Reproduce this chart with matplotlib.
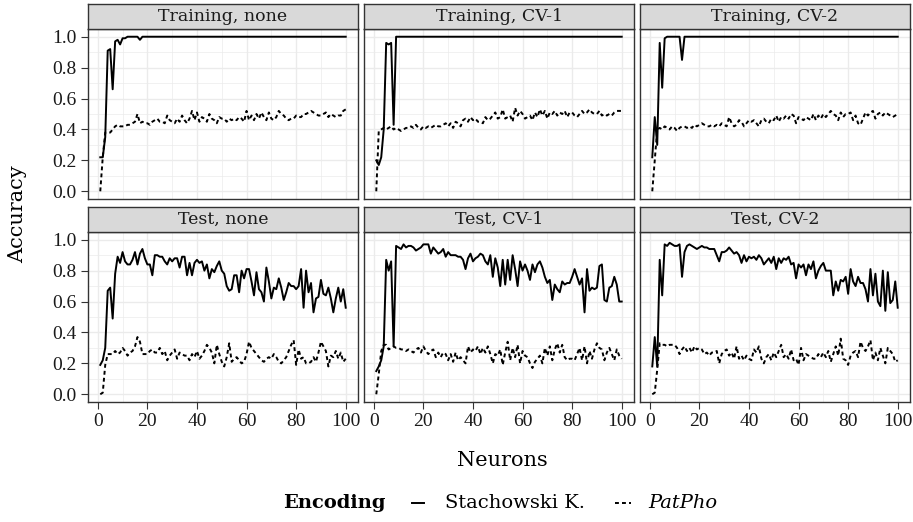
import matplotlib.pyplot as plt
from matplotlib.lines import Line2D
from matplotlib.ticker import MultipleLocator, FormatStrFormatter

plt.rcParams['font.family'] = ['DejaVu Serif']

neurons = list(range(1, 101))

train_none_stach = [0.22, 0.22, 0.35, 0.91, 0.92, 0.66, 0.97, 0.98, 0.95, 0.99,
                    0.99, 1.0, 1.0, 1.0, 1.0, 1.0, 0.98, 1.0] + [1.0] * 82
train_none_pat = [0.00, 0.22, 0.38, 0.38, 0.38, 0.40, 0.42, 0.43, 0.42, 0.42,
                  0.42, 0.43, 0.43, 0.44, 0.45, 0.50, 0.44, 0.45, 0.44, 0.44,
                  0.43, 0.45, 0.46, 0.47, 0.45, 0.45, 0.44, 0.49, 0.46, 0.45,
                  0.44, 0.47, 0.45, 0.49, 0.46, 0.44, 0.47, 0.52, 0.46, 0.51,
                  0.45, 0.48, 0.47, 0.45, 0.50, 0.47, 0.46, 0.44, 0.48, 0.47,
                  0.47, 0.45, 0.47, 0.46, 0.47, 0.46, 0.48, 0.47, 0.45, 0.52,
                  0.46, 0.49, 0.46, 0.50, 0.47, 0.51, 0.48, 0.46, 0.51, 0.47,
                  0.46, 0.48, 0.52, 0.50, 0.49, 0.47, 0.46, 0.47, 0.47, 0.49,
                  0.48, 0.48, 0.50, 0.50, 0.51, 0.52, 0.51, 0.50, 0.49, 0.49,
                  0.50, 0.51, 0.48, 0.50, 0.49, 0.48, 0.49, 0.49, 0.52, 0.53]

train_cv1_stach = [0.20, 0.17, 0.22, 0.40, 0.96, 0.95, 0.96, 0.43] + [1.0] * 92
train_cv1_pat = [0.00, 0.39, 0.40, 0.41, 0.40, 0.41, 0.42, 0.40, 0.41, 0.40,
                 0.39, 0.40, 0.41, 0.41, 0.42, 0.41, 0.43, 0.41, 0.40, 0.42,
                 0.41, 0.42, 0.41, 0.42, 0.43, 0.42, 0.42, 0.43, 0.44, 0.42,
                 0.44, 0.41, 0.45, 0.44, 0.42, 0.46, 0.47, 0.45, 0.48, 0.46,
                 0.47, 0.45, 0.45, 0.44, 0.48, 0.46, 0.47, 0.49, 0.51, 0.47,
                 0.48, 0.53, 0.47, 0.48, 0.49, 0.45, 0.54, 0.49, 0.52, 0.50,
                 0.47, 0.48, 0.49, 0.46, 0.51, 0.48, 0.53, 0.49, 0.52, 0.47,
                 0.51, 0.50, 0.52, 0.49, 0.51, 0.50, 0.52, 0.48, 0.51, 0.51,
                 0.49, 0.48, 0.50, 0.52, 0.50, 0.51, 0.53, 0.51, 0.50, 0.50,
                 0.52, 0.49, 0.50, 0.49, 0.50, 0.49, 0.51, 0.52, 0.52, 0.52]

train_cv2_stach = [0.22, 0.48, 0.30, 0.96, 0.67, 0.99, 1.0, 1.0, 1.0, 1.0,
                   1.0, 1.0, 0.85] + [1.0] * 87
train_cv2_pat = [0.00, 0.20, 0.40, 0.41, 0.40, 0.42, 0.41, 0.40, 0.42, 0.41,
                 0.39, 0.41, 0.42, 0.42, 0.41, 0.42, 0.41, 0.43, 0.42, 0.43,
                 0.44, 0.43, 0.42, 0.42, 0.43, 0.42, 0.43, 0.42, 0.44, 0.43,
                 0.42, 0.48, 0.44, 0.42, 0.43, 0.46, 0.45, 0.42, 0.44, 0.46,
                 0.45, 0.46, 0.44, 0.42, 0.46, 0.47, 0.45, 0.44, 0.47, 0.46,
                 0.49, 0.45, 0.48, 0.47, 0.49, 0.47, 0.50, 0.49, 0.44, 0.48,
                 0.47, 0.46, 0.48, 0.47, 0.46, 0.50, 0.46, 0.49, 0.47, 0.50,
                 0.48, 0.50, 0.52, 0.50, 0.49, 0.46, 0.51, 0.48, 0.50, 0.50,
                 0.51, 0.46, 0.49, 0.44, 0.43, 0.47, 0.51, 0.49, 0.51, 0.52,
                 0.47, 0.50, 0.51, 0.49, 0.51, 0.50, 0.49, 0.48, 0.49, 0.50]

test_none_stach = [0.19, 0.22, 0.30, 0.67, 0.69, 0.49, 0.78, 0.89, 0.85, 0.92,
                   0.86, 0.84, 0.84, 0.87, 0.92, 0.84, 0.91, 0.94, 0.88, 0.84,
                   0.84, 0.77, 0.90, 0.90, 0.89, 0.89, 0.86, 0.84, 0.88, 0.86,
                   0.88, 0.88, 0.82, 0.89, 0.89, 0.77, 0.85, 0.77, 0.85, 0.87,
                   0.85, 0.86, 0.80, 0.84, 0.75, 0.81, 0.79, 0.83, 0.86, 0.80,
                   0.78, 0.70, 0.67, 0.68, 0.77, 0.77, 0.66, 0.80, 0.75, 0.81,
                   0.81, 0.73, 0.64, 0.79, 0.68, 0.66, 0.60, 0.82, 0.73, 0.62,
                   0.69, 0.68, 0.75, 0.69, 0.61, 0.66, 0.72, 0.70, 0.70, 0.68,
                   0.70, 0.81, 0.56, 0.80, 0.66, 0.72, 0.53, 0.62, 0.63, 0.74,
                   0.65, 0.64, 0.69, 0.62, 0.53, 0.62, 0.69, 0.60, 0.68, 0.56]
test_none_pat = [0.00, 0.01, 0.19, 0.26, 0.26, 0.26, 0.28, 0.26, 0.27, 0.30,
                 0.28, 0.25, 0.27, 0.28, 0.31, 0.37, 0.34, 0.26, 0.26, 0.26,
                 0.28, 0.29, 0.27, 0.27, 0.30, 0.26, 0.28, 0.22, 0.25, 0.27,
                 0.29, 0.23, 0.27, 0.26, 0.25, 0.25, 0.22, 0.26, 0.24, 0.28,
                 0.23, 0.25, 0.28, 0.32, 0.30, 0.27, 0.20, 0.32, 0.26, 0.21,
                 0.18, 0.24, 0.33, 0.21, 0.23, 0.24, 0.22, 0.20, 0.21, 0.26,
                 0.34, 0.30, 0.28, 0.26, 0.24, 0.22, 0.21, 0.23, 0.24, 0.23,
                 0.26, 0.24, 0.21, 0.20, 0.22, 0.24, 0.28, 0.32, 0.35, 0.19,
                 0.29, 0.23, 0.24, 0.20, 0.20, 0.21, 0.24, 0.21, 0.27, 0.34,
                 0.31, 0.28, 0.18, 0.25, 0.24, 0.28, 0.23, 0.27, 0.21, 0.23]

test_cv1_stach = [0.15, 0.18, 0.22, 0.31, 0.87, 0.80, 0.86, 0.31, 0.96, 0.95,
                  0.94, 0.97, 0.95, 0.96, 0.96, 0.95, 0.93, 0.94, 0.95, 0.97,
                  0.97, 0.97, 0.91, 0.95, 0.93, 0.91, 0.92, 0.94, 0.89, 0.92,
                  0.90, 0.90, 0.90, 0.89, 0.89, 0.87, 0.81, 0.88, 0.91, 0.86,
                  0.88, 0.89, 0.91, 0.90, 0.86, 0.84, 0.90, 0.76, 0.88, 0.82,
                  0.70, 0.87, 0.71, 0.87, 0.74, 0.90, 0.81, 0.70, 0.86, 0.80,
                  0.84, 0.80, 0.74, 0.84, 0.79, 0.84, 0.86, 0.82, 0.76, 0.72,
                  0.74, 0.61, 0.71, 0.68, 0.66, 0.73, 0.71, 0.72, 0.72, 0.76,
                  0.81, 0.76, 0.71, 0.75, 0.53, 0.81, 0.67, 0.69, 0.68, 0.69,
                  0.83, 0.84, 0.61, 0.60, 0.69, 0.70, 0.76, 0.71, 0.60, 0.60]
test_cv1_pat = [0.00, 0.13, 0.28, 0.32, 0.32, 0.29, 0.30, 0.31, 0.30, 0.30,
                0.29, 0.29, 0.28, 0.29, 0.28, 0.27, 0.29, 0.30, 0.27, 0.31,
                0.28, 0.26, 0.28, 0.29, 0.24, 0.27, 0.24, 0.27, 0.26, 0.22,
                0.26, 0.21, 0.27, 0.22, 0.24, 0.22, 0.20, 0.31, 0.27, 0.29,
                0.28, 0.31, 0.26, 0.30, 0.27, 0.31, 0.26, 0.20, 0.26, 0.25,
                0.29, 0.19, 0.27, 0.34, 0.22, 0.30, 0.24, 0.32, 0.20, 0.28,
                0.25, 0.24, 0.20, 0.17, 0.21, 0.23, 0.25, 0.20, 0.30, 0.25,
                0.31, 0.22, 0.29, 0.33, 0.27, 0.32, 0.24, 0.22, 0.23, 0.23,
                0.22, 0.26, 0.30, 0.22, 0.31, 0.20, 0.28, 0.23, 0.29, 0.33,
                0.30, 0.29, 0.22, 0.27, 0.30, 0.26, 0.22, 0.29, 0.25, 0.23]

test_cv2_stach = [0.18, 0.37, 0.18, 0.87, 0.64, 0.97, 0.96, 0.98, 0.97, 0.96,
                  0.96, 0.97, 0.76, 0.92, 0.96, 0.97, 0.96, 0.95, 0.94, 0.95,
                  0.96, 0.95, 0.95, 0.94, 0.94, 0.94, 0.90, 0.86, 0.92, 0.92,
                  0.93, 0.95, 0.93, 0.91, 0.92, 0.90, 0.85, 0.90, 0.86, 0.89,
                  0.88, 0.89, 0.87, 0.90, 0.88, 0.84, 0.86, 0.88, 0.85, 0.89,
                  0.81, 0.88, 0.85, 0.88, 0.87, 0.89, 0.84, 0.85, 0.75, 0.84,
                  0.82, 0.84, 0.77, 0.84, 0.81, 0.86, 0.75, 0.80, 0.83, 0.85,
                  0.80, 0.80, 0.80, 0.64, 0.73, 0.67, 0.74, 0.73, 0.76, 0.65,
                  0.81, 0.73, 0.70, 0.76, 0.72, 0.72, 0.68, 0.60, 0.81, 0.64,
                  0.78, 0.60, 0.57, 0.80, 0.54, 0.79, 0.59, 0.61, 0.73, 0.56]
test_cv2_pat = [0.00, 0.01, 0.16, 0.33, 0.32, 0.32, 0.31, 0.32, 0.32, 0.32,
                0.30, 0.26, 0.29, 0.31, 0.28, 0.30, 0.27, 0.31, 0.29, 0.30,
                0.29, 0.26, 0.27, 0.25, 0.27, 0.27, 0.28, 0.20, 0.26, 0.28,
                0.29, 0.25, 0.27, 0.23, 0.31, 0.23, 0.25, 0.22, 0.25, 0.23,
                0.22, 0.29, 0.27, 0.31, 0.23, 0.20, 0.24, 0.26, 0.22, 0.27,
                0.24, 0.28, 0.32, 0.24, 0.26, 0.23, 0.29, 0.22, 0.23, 0.19,
                0.30, 0.22, 0.26, 0.25, 0.24, 0.23, 0.23, 0.26, 0.24, 0.27,
                0.24, 0.28, 0.21, 0.26, 0.31, 0.25, 0.36, 0.23, 0.22, 0.19,
                0.25, 0.27, 0.28, 0.24, 0.34, 0.30, 0.28, 0.31, 0.35, 0.22,
                0.27, 0.22, 0.30, 0.25, 0.20, 0.30, 0.28, 0.26, 0.21, 0.22]

panel_titles = ['Training, none', 'Training, CV-1', 'Training, CV-2',
                'Test, none', 'Test, CV-1', 'Test, CV-2']
stach_series = [train_none_stach, train_cv1_stach, train_cv2_stach,
                test_none_stach, test_cv1_stach, test_cv2_stach]
pat_series = [train_none_pat, train_cv1_pat, train_cv2_pat,
              test_none_pat, test_cv1_pat, test_cv2_pat]
legend_labels = ['Stachowski K.', 'PatPho']

W, H = 913, 522
fig = plt.figure(figsize=(W / 100, H / 100), dpi=100)

lefts = [88, 364, 640]
panel_w = 270
rows = [(4, 29, 199), (207, 232, 402)]  # strip top, panel top, panel bottom (px)
dash = (0, (2.0, 1.6))
tick_font = 'Liberation Serif'

for i, title in enumerate(panel_titles):
    r, c = divmod(i, 3)
    strip_top, top, bottom = rows[r]
    left = lefts[c]
    ax = fig.add_axes([left / W, 1 - bottom / H, panel_w / W, (bottom - top) / H])
    sax = fig.add_axes([left / W, 1 - top / H, panel_w / W, (top - strip_top) / H])

    sax.set_facecolor('#D9D9D9')
    sax.set_xticks([])
    sax.set_yticks([])
    for sp in sax.spines.values():
        sp.set_color('#333333')
        sp.set_linewidth(1.0)
    sax.text(0.5, 0.5, title, ha='center', va='center', fontsize=12.5, color='#1A1A1A',
             transform=sax.transAxes)

    ax.plot(neurons, stach_series[i], color='black', lw=1.4, zorder=3)
    ax.plot(neurons, pat_series[i], color='black', lw=1.4, linestyle=dash, zorder=3)

    ax.xaxis.set_major_locator(MultipleLocator(20))
    ax.xaxis.set_minor_locator(MultipleLocator(10))
    ax.yaxis.set_major_locator(MultipleLocator(0.2))
    ax.yaxis.set_minor_locator(MultipleLocator(0.1))
    ax.yaxis.set_major_formatter(FormatStrFormatter('%.1f'))
    ax.set_xlim(-3.95, 104.95)
    ax.set_ylim(-0.05, 1.05)
    ax.grid(True, which='major', color='#EBEBEB', lw=1.0, zorder=0)
    ax.grid(True, which='minor', color='#EBEBEB', lw=0.5, zorder=0)
    ax.set_axisbelow(True)
    for sp in ax.spines.values():
        sp.set_color('#333333')
        sp.set_linewidth(1.0)
    ax.tick_params(which='minor', length=0)
    ax.tick_params(which='major', length=5, color='#333333', width=0.8,
                   labelsize=14, labelcolor='#1A1A1A', pad=3)
    for lab in ax.get_xticklabels() + ax.get_yticklabels():
        lab.set_fontfamily(tick_font)
    if c != 0:
        ax.tick_params(axis='y', left=False, labelleft=False)
    if r == 0:
        ax.tick_params(axis='x', bottom=False, labelbottom=False)

fig.text(18 / W, 1 - 214 / H, 'Accuracy', rotation=90, ha='center', va='center', fontsize=15)
fig.text(502 / W, 1 - 460 / H, 'Neurons', ha='center', va='center', fontsize=15)

# legend drawn by hand so the title sits to the left of the keys
leg_y = 1 - 503 / H
fig.text(283 / W, leg_y, 'Encoding', ha='left', va='center', fontsize=14, fontweight='bold')
fig.add_artist(Line2D([412 / W, 424 / W], [leg_y, leg_y], color='black', lw=1.4,
                      transform=fig.transFigure))
fig.text(445 / W, leg_y, legend_labels[0], ha='left', va='center', fontsize=14)
fig.add_artist(Line2D([615 / W, 631 / W], [leg_y, leg_y], color='black', lw=1.4,
                      linestyle=dash, transform=fig.transFigure))
fig.text(648 / W, leg_y, legend_labels[1], ha='left', va='center', fontsize=14,
         fontstyle='italic')

plt.savefig('out.png', dpi=100)
plt.close()
